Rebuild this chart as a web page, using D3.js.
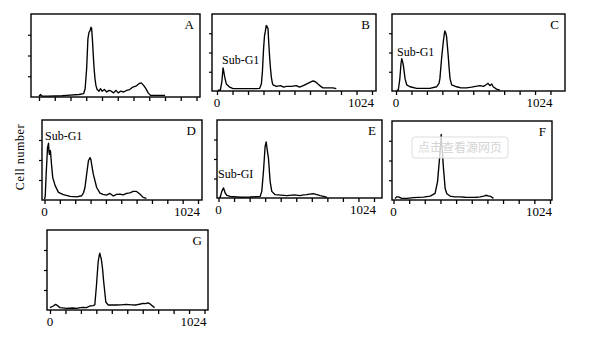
<!DOCTYPE html>
<html><head><meta charset="utf-8">
<script src="https://cdn.jsdelivr.net/npm/d3@7"></script>
<style>body{margin:0;background:#fff} svg{display:block}</style>
</head><body>
<script>
// ---- data: [DNA channel, relative cell count] ----
const histA = [[0,1],[10,3],[20,1],[60,1],[150,1.5],[180,2],[260,3],[290,4],[300,10],[310,35],[318,70],[325,78],[332,80],[338,84],[342,83],[347,70],[353,50],[358,35],[364,22],[370,14],[378,9],[390,7],[400,10],[410,7],[425,9],[440,6],[455,8],[470,7],[485,5],[500,8],[515,5],[530,7],[550,6],[570,8],[590,9],[610,12],[630,13],[650,16],[665,17],[680,14],[695,10],[710,5],[725,2],[760,2],[800,2],[820,2]];
const histB = [[5,1],[22,1],[32,12],[40,30],[45,25],[51,18],[62,9],[84,5],[106,3],[150,3],[200,3],[260,3],[282,3.5],[293,9],[300,25],[308,56],[314,72],[319,77],[325,85],[330,84],[337,81],[342,62],[348,43],[354,28],[359,18],[365,11],[370,8],[392,6],[420,7],[440,5],[458,6],[490,6],[524,7],[545,5],[570,7],[590,9],[610,11],[634,13],[650,12],[667,9],[685,6],[700,4],[766,4],[788,3]];
const histC = [[5,1],[15,1],[25,15],[33,35],[38,42],[44,38],[49,33],[60,16],[71,8],[93,5.5],[137,3.4],[180,3.4],[225,3.4],[269,5.5],[285,10],[291,16],[302,42],[313,63],[320,74],[324,78],[330,75],[335,71],[346,46],[352,30],[358,16],[369,8],[402,5.5],[430,4],[468,4],[500,5],[556,7],[580,6],[600,8.5],[610,10],[622,7],[635,9],[644,5.5],[666,2.5],[689,1]];
const histD = [[0,1],[5,5],[11,32],[16,50],[20,65],[27,71],[30,60],[33,57],[37,62],[40,61],[47,44],[55,28],[71,18],[93,9.5],[126,6.6],[171,4.5],[215,4],[248,5.3],[260,9],[270,15.6],[281,32],[293,49],[304,53],[310,50],[315,44],[326,32],[348,15.6],[370,8.6],[390,7],[414,6.2],[437,8.2],[459,5],[480,7],[503,7.4],[525,6.5],[547,8.2],[570,9],[592,10.7],[614,10.7],[636,7.4],[658,3.3],[680,2]];
const histE = [[5,1],[11,1],[22,8.5],[33,13],[44,6.4],[55,3.4],[77,2],[143,1],[208,1.3],[274,2],[285,8.5],[296,34],[307,66],[314,72],[318,66],[322,60],[329,51],[340,21],[351,8.5],[373,4.3],[450,3],[500,4],[537,3],[560,4],[581,4.3],[600,5],[625,5.5],[647,4.3],[670,3],[691,2],[713,1]];
const histF = [[10,2],[22,4],[33,4],[54,2],[87,2],[131,3],[196,3.7],[240,5],[272,8.3],[288,23],[301,52],[308,70],[312,83],[315,74],[318,65],[327,40],[338,14.6],[349,8],[370,5],[400,4],[436,4],[470,3.5],[501,3.3],[540,3.5],[567,4],[590,5],[610,6],[620,5],[632,5],[654,2]];
const histG = [[0,3],[22,5],[35,7],[44,6.3],[66,3],[110,2],[150,2.5],[176,2],[200,3],[220,3.3],[242,3],[264,5],[285,5.5],[297,6.3],[308,31],[319,60],[326,68],[330,71],[335,67],[339,65],[348,52],[356,35],[370,10],[385,6.3],[410,6.5],[440,6.3],[470,6.5],[506,7],[540,6.5],[572,6.3],[600,7.5],[616,8.3],[635,8],[649,9],[660,8],[671,6.3],[693,3]];

const panelNames = ["A","B","C","D","E","F","G"];
const histograms = [histA,histB,histC,histD,histE,histF,histG];
const subG1Texts = [null,"Sub-G1","Sub-G1","Sub-G1","Sub-GI",null,null];
const xTickLabels = ["0","1024"];
const xTickValues = d3.range(0, 1024.01, 102.4);
const yTickValues = [25,50,75];
const yAxisTitle = "Cell number";
const watermarkText = "点击查看源网页";

// ---- layout (pixels) ----
const layout = [
  {box:[31,14,200,97],  ticks:[39,196.5], lab:false, sub:null},
  {box:[212,14,376,91], ticks:[217,372],  lab:true,  sub:[222,64]},
  {box:[392,14,565,91], ticks:[396,550.5],lab:true,  sub:[397,56]},
  {box:[42,120,202,200],ticks:[44.5,198], lab:true,  sub:[45,140]},
  {box:[217,120,382,198],ticks:[218.5,374],lab:true, sub:[218,178]},
  {box:[392,121,552,200],ticks:[393.5,550],lab:true, sub:null},
  {box:[47,230,208,310],ticks:[50,204.5], lab:true,  sub:null}
];

const W = 603, H = 356;
const svg = d3.select("body").append("svg").attr("width",W).attr("height",H);
const font = "'Liberation Serif','DejaVu Serif',serif";
const ink = "#000";

panelNames.forEach((name,i)=>{
  const L = layout[i];
  const [l,t,r,b] = L.box;
  const x = d3.scaleLinear().domain([0,1024]).range(L.ticks);
  const y = d3.scaleLinear().domain([0,100]).range([b, t]);
  const g = svg.append("g");

  g.append("rect").attr("x",l).attr("y",t).attr("width",r-l).attr("height",b-t)
    .attr("fill","none").attr("stroke",ink).attr("stroke-width",1.4);

  const xa = g.append("g").attr("transform",`translate(0,${b})`)
    .call(d3.axisBottom(x).tickValues(xTickValues).tickSize(4).tickFormat(""));
  xa.select(".domain").remove();
  xa.selectAll("line").attr("stroke",ink).attr("stroke-width",1.3);

  const ya = g.append("g").attr("transform",`translate(${l},0)`)
    .call(d3.axisLeft(y).tickValues(yTickValues).tickSize(3).tickFormat(""));
  ya.select(".domain").remove();
  ya.selectAll("line").attr("stroke",ink).attr("stroke-width",1.2);

  const line = d3.line().x(d=>x(d[0])).y(d=>y(d[1]));
  g.append("path").datum(histograms[i]).attr("d",line)
    .attr("fill","none").attr("stroke",ink).attr("stroke-width",1.35)
    .attr("stroke-linejoin","round");

  g.append("text").attr("x",r-6).attr("y",t+15).attr("text-anchor","end")
    .attr("font-family",font).attr("font-size",13).attr("fill",ink).text(name);

  if (L.lab){
    g.append("text").attr("x",x(0)).attr("y",b+16).attr("text-anchor","middle")
      .attr("font-family",font).attr("font-size",13).attr("fill",ink).text(xTickLabels[0]);
    g.append("text").attr("x",x(1024)+2).attr("y",b+16).attr("text-anchor","end")
      .attr("font-family",font).attr("font-size",13).attr("fill",ink).text(xTickLabels[1]);
  }
  if (L.sub && subG1Texts[i]){
    g.append("text").attr("x",L.sub[0]).attr("y",L.sub[1])
      .attr("font-family",font).attr("font-size",12).attr("fill",ink).text(subG1Texts[i]);
  }
});

svg.append("text").attr("transform","translate(24,157) rotate(-90)")
  .attr("text-anchor","middle").attr("font-family",font).attr("font-size",12)
  .attr("letter-spacing",0.6).attr("fill",ink).text(yAxisTitle);

// watermark overlay in panel F
const wm = svg.append("g");
wm.append("rect").attr("x",412).attr("y",137).attr("width",96).attr("height",21).attr("rx",3)
  .attr("fill","#fff").attr("fill-opacity",0.8).attr("stroke","#ddd");
wm.append("text").attr("x",460).attr("y",152).attr("text-anchor","middle")
  .attr("font-family","'Noto Sans CJK SC'").attr("font-size",12).attr("fill","#d4d4d4").text(watermarkText);
</script>
</body></html>
